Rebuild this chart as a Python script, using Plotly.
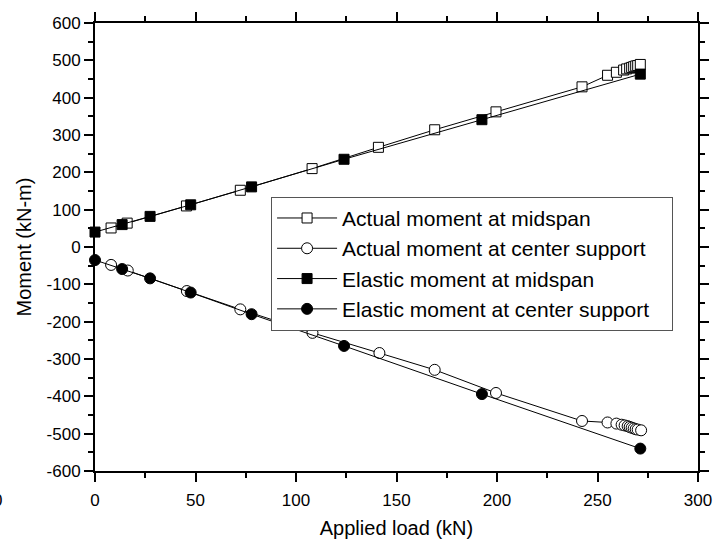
import plotly.graph_objects as go

# Applied load (kN) and bending moment (kN-m) series
load_actual_mid = [8, 16, 45.5, 72.3, 108, 141, 169, 199.5, 242.3, 255, 259.4,
                   263, 264.5, 266, 267, 268, 269, 270, 271.3]
moment_actual_mid = [51, 64, 110, 152, 210, 267, 314, 362, 429, 460, 468,
                     474, 477, 479, 481, 483, 485, 486, 489]

load_actual_sup = [8, 16.3, 45.7, 72.3, 108.2, 141.5, 169, 199.5, 242.3, 255, 259.4,
                   262, 263.5, 265, 266, 267, 268, 269, 270, 271.7]
moment_actual_sup = [-48, -63, -118, -167, -230, -284, -329, -391, -466, -470, -473,
                     -476, -478, -480, -482, -484, -486, -488, -489, -491]

load_elastic = [0, 13.5, 27.4, 47.6, 77.9, 123.9, 192.5, 271.3]
moment_elastic_mid = [40, 60, 82, 113, 161, 235, 341, 463]
moment_elastic_sup = [-35, -59, -84, -122, -180, -265, -394, -540]

x_ticks = [0, 50, 100, 150, 200, 250, 300]
y_ticks = [600, 500, 400, 300, 200, 100, 0, -100, -200, -300, -400, -500, -600]
y_tick_text = ["600", "500", "400", "300", "200", "100", "0", "-100", "-200",
               "-300", "-400", "-500", "-600"]

FONT = "Arial, Liberation Sans, sans-serif"
PAD = "\u00a0\u00a0\u00a0"

series = [
    ("Actual moment at midspan", load_actual_mid, moment_actual_mid, "square", "white"),
    ("Actual moment at center support", load_actual_sup, moment_actual_sup, "circle", "white"),
    ("Elastic moment at midspan", load_elastic, moment_elastic_mid, "square", "black"),
    ("Elastic moment at center support", load_elastic, moment_elastic_sup, "circle", "black"),
]

fig = go.Figure()
for name, xs, ys, sym, fill in series:
    fig.add_trace(go.Scatter(
        x=xs, y=ys, name=name + PAD, mode="lines+markers",
        line=dict(color="black", width=1),
        marker=dict(symbol=sym, size=10 if sym == "square" else 11, color=fill,
                    line=dict(color="black", width=1)),
        cliponaxis=False,
    ))

axis_common = dict(
    showline=True, linecolor="black", linewidth=2, mirror="ticks",
    ticks="outside", ticklen=9, tickwidth=2, tickcolor="black",
    showgrid=False, zeroline=False,
    tickfont=dict(family=FONT, size=17, color="black"),
)

fig.update_xaxes(
    range=[0, 300], tickvals=x_ticks, ticklabelstandoff=4,
    minor=dict(dtick=25, ticks="outside", ticklen=5, tickwidth=2, tickcolor="black"),
    title=dict(text="Applied load (kN)", font=dict(family=FONT, size=20, color="black"),
               standoff=12),
    **axis_common,
)
fig.update_yaxes(
    range=[-600, 600], tickvals=y_ticks, ticktext=y_tick_text,
    minor=dict(dtick=50, ticks="outside", ticklen=5, tickwidth=2, tickcolor="black"),
    title=dict(text="Moment (kN-m)", font=dict(family=FONT, size=20, color="black"),
               standoff=10),
    **axis_common,
)

fig.update_layout(
    width=724, height=548,
    margin=dict(l=95, r=16, t=20, b=71),
    paper_bgcolor="white", plot_bgcolor="white",
    showlegend=True,
    legend=dict(
        x=0.292, y=0.612, xanchor="left", yanchor="top",
        bgcolor="white", bordercolor="#555555", borderwidth=1,
        font=dict(family=FONT, size=21, color="black"),
        itemwidth=60, tracegroupgap=0,
    ),
    font=dict(family=FONT, color="black"),
)

# partially visible tick label at the left page edge
fig.add_annotation(
    text="0", xref="paper", yref="paper", x=-0.1517, y=-0.04,
    xanchor="right", yanchor="top", showarrow=False,
    font=dict(family=FONT, size=17, color="black"),
)

fig.write_html("out.html")
